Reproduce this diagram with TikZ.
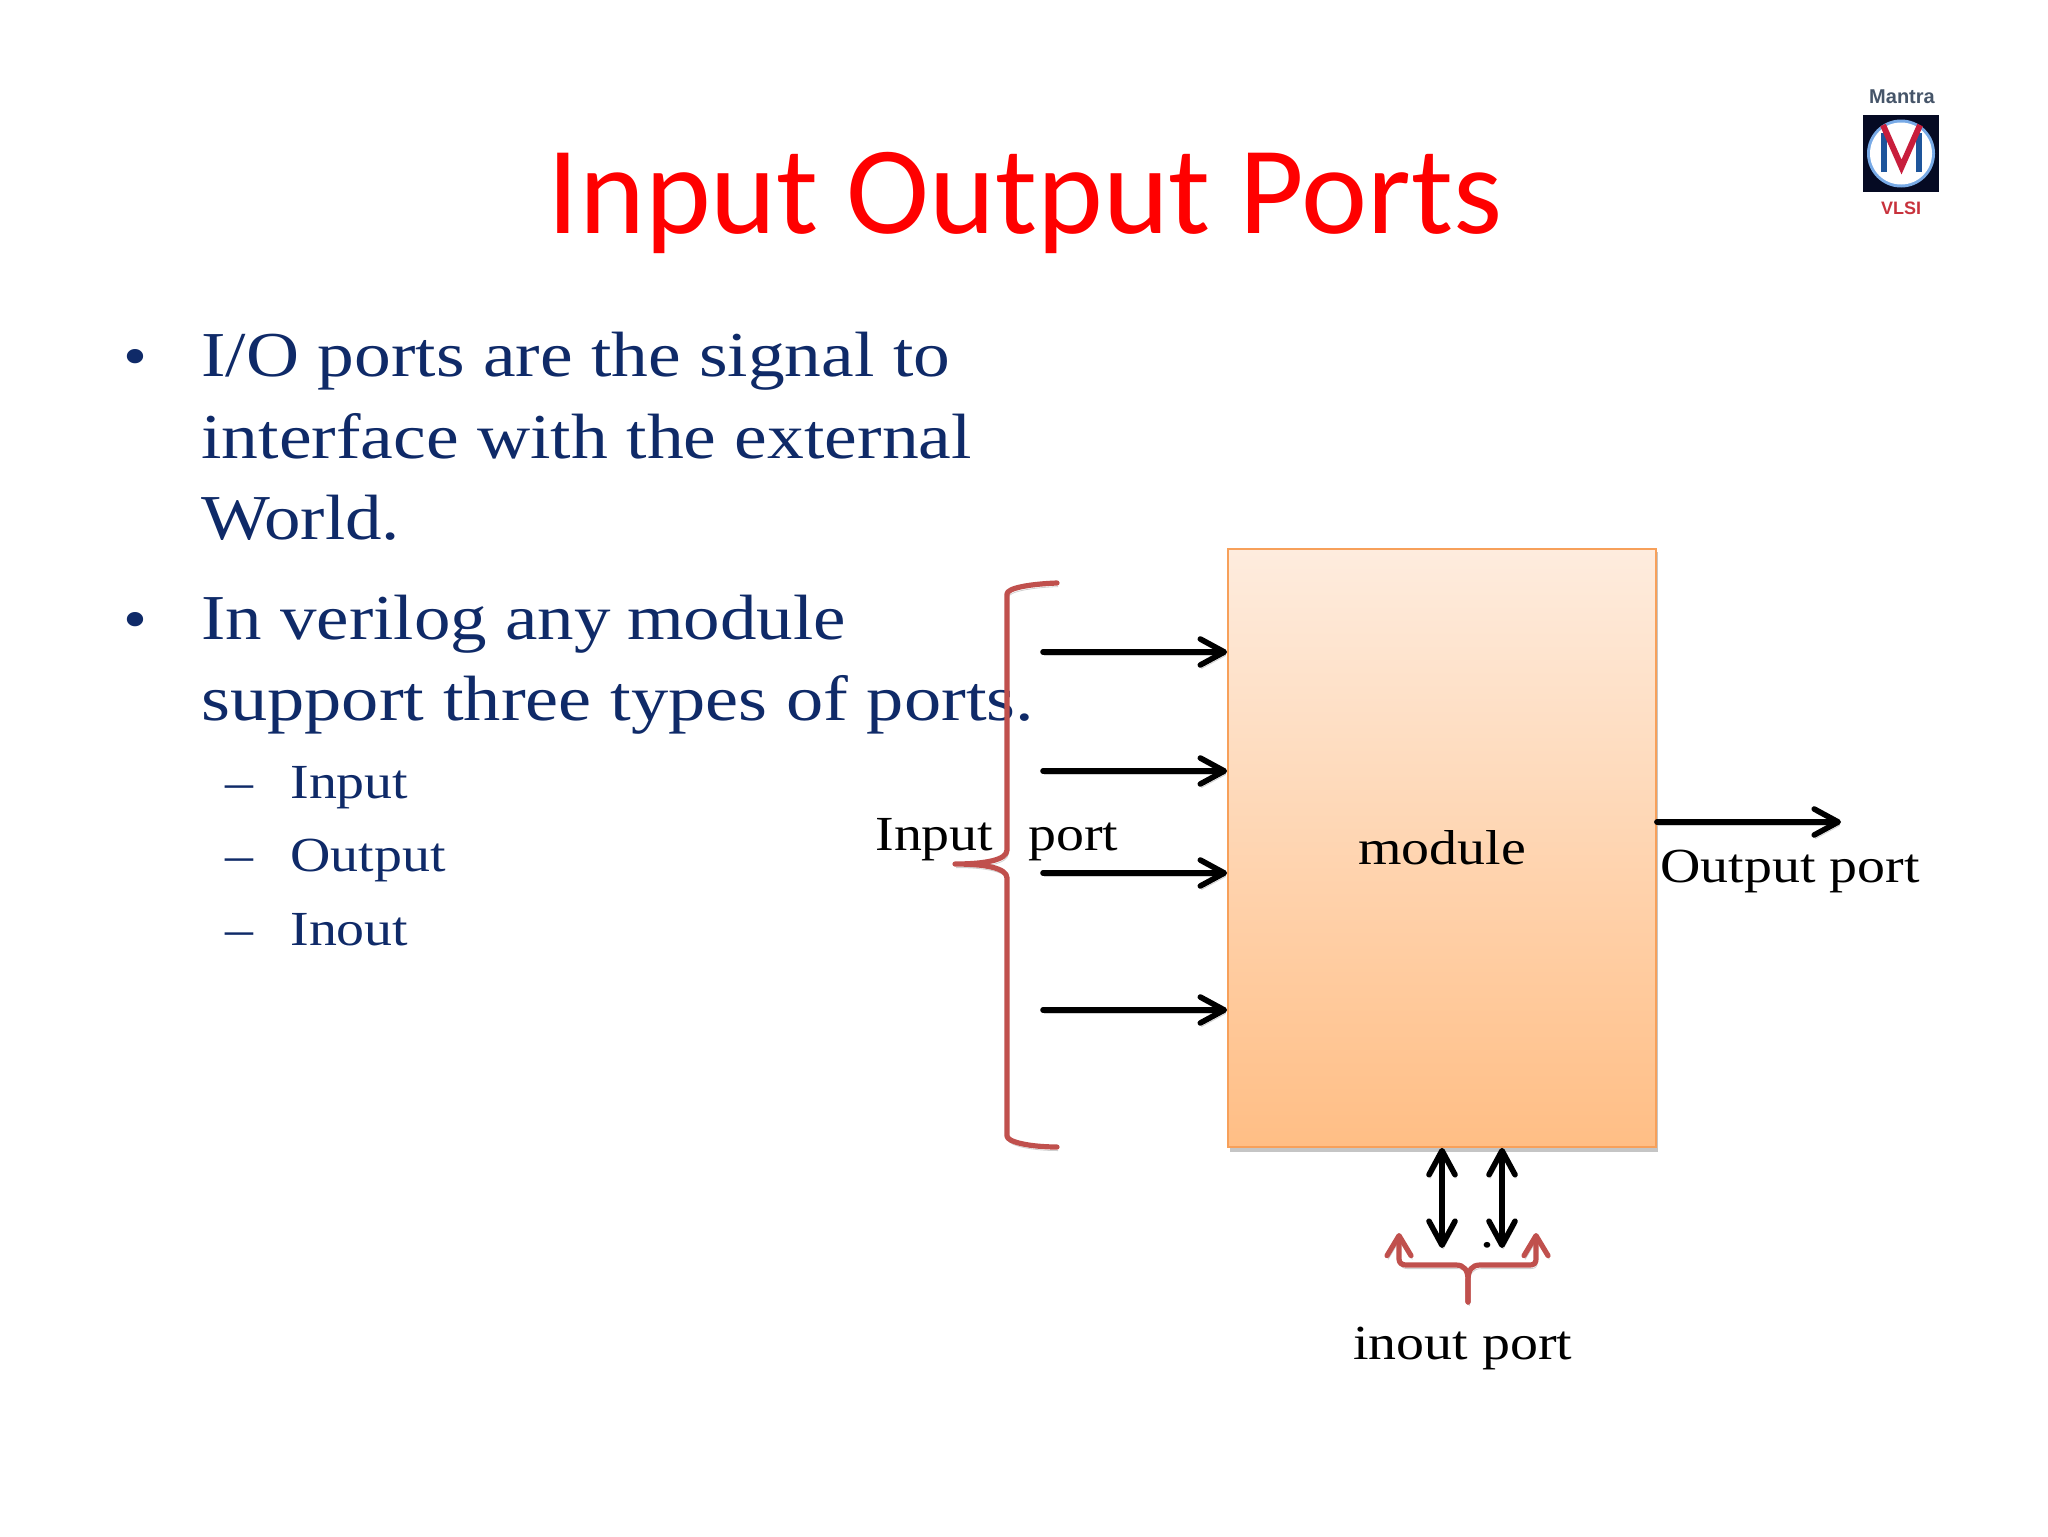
\documentclass[tikz,border=0pt]{standalone}
\usepackage{fontspec}
\setmainfont[FakeStretch=1.14]{Liberation Serif}
\newfontfamily\titlefont{Carlito}
\newfontfamily\logofont{Liberation Sans}
\usetikzlibrary{arrows.meta}
\definecolor{bodyblue}{HTML}{0F2A68}
\definecolor{bracered}{HTML}{C0504D}
\definecolor{titlered}{HTML}{FF0000}
\definecolor{logoring}{RGB}{120,170,230}
\definecolor{logoblue}{RGB}{30,85,155}
\definecolor{logored}{RGB}{200,30,60}
\definecolor{logonavy}{RGB}{5,10,35}
\definecolor{logogray}{RGB}{70,85,105}
\definecolor{logovlsi}{RGB}{200,50,60}
\definecolor{boxedge}{RGB}{247,160,90}
\definecolor{boxtop}{RGB}{254,236,222}
\definecolor{boxbottom}{RGB}{255,190,133}
\tikzset{
 x=0.5pt,y=-0.5pt,
 softshadow/.style={preaction={draw=black!60,opacity=.3,transform canvas={xshift=0.6pt,yshift=-1.8pt}}},
 port/.style={softshadow,draw=black,line width=2.8pt,line cap=round,-{Straight Barb[length=12pt,width=13pt,line width=2.8pt,round]}},
 biport/.style={softshadow,draw=black,line width=2.8pt,line cap=round,{Straight Barb[length=12pt,width=13pt,line width=2.8pt,round]}-{Straight Barb[length=12pt,width=13pt,line width=2.8pt,round]}},
 bracestroke/.style={softshadow,draw=bracered,line width=2.6pt,line cap=round,line join=round},
 redarrow/.style={-{Straight Barb[length=10pt,width=12pt,line width=2.6pt,round]}},
 txt/.style={inner sep=0pt,anchor=base west,text=black,font=\fontsize{24.5}{24.5}\selectfont},
 bodytext/.style={inner sep=0pt,anchor=base west,text=bodyblue,font=\fontsize{32}{32}\selectfont},
 subtext/.style={inner sep=0pt,anchor=base west,text=bodyblue,font=\fontsize{24.5}{24.5}\selectfont},
 bulletmark/.style={inner sep=0pt,anchor=base,text=bodyblue,font=\fontsize{30}{30}\selectfont},
}
\begin{document}
\begin{tikzpicture}
\useasboundingbox (0,0) rectangle (2048,1536);
\fill[white] (0,0) rectangle (2048,1536);
% title
\node[inner sep=0pt,anchor=base,text=titlered,font=\titlefont\fontsize{62.6}{62.6}\selectfont] (title) at (1025,233) {Input Output Ports};
% body
\node[bulletmark] (b1) at (135,376) {•};
\node[bodytext] (l1) at (201,376) {\scalebox{1.007}[1]{I/O ports are the signal to}};
\node[bodytext] (l2) at (201,458) {\scalebox{1.009}[1]{interface with the external}};
\node[bodytext] (l3) at (201,539) {World.};
\node[bulletmark] (b2) at (135,639) {•};
\node[bodytext] (l4) at (201,639) {In verilog any\ \ \hspace{-10pt}module};
\node[bodytext] (l5) at (201,720) {\scalebox{1.02}[1]{support three types of ports.}};
\node[subtext] (d1) at (225,798) {–};
\node[subtext] (s1) at (290,798) {Input};
\node[subtext] (d2) at (225,871) {–};
\node[subtext] (s2) at (290,871) {Output};
\node[subtext] (d3) at (225,945) {–};
\node[subtext] (s3) at (290,945) {Inout};
% module
\fill[black!50,opacity=.45] (1230,552) rectangle (1658,1152);
\node[draw=boxedge,line width=0.9pt,top color=boxtop,bottom color=boxbottom,minimum width=214pt,minimum height=299pt,inner sep=0pt,font=\fontsize{24.5}{24.5}\selectfont] (box) at (1442,848) {\raisebox{-2.2pt}{module}};
% input arrows
\coordinate (a1) at (1043,652);
\coordinate (a2) at (1043,771);
\coordinate (a3) at (1043,873);
\coordinate (a4) at (1043,1010);
\draw[port] (a1) -- (a1 -| box.west);
\draw[port] (a2) -- (a2 -| box.west);
\draw[port] (a3) -- (a3 -| box.west);
\draw[port] (a4) -- (a4 -| box.west);
% output arrow
\coordinate (o1) at (1841,822);
\draw[port] (o1 -| box.east) -- (o1);
% inout arrows
\coordinate (i1) at (1442,1248);
\coordinate (i2) at (1502,1248);
\draw[biport] (i1 |- box.south) -- (i1);
\draw[biport] (i2 |- box.south) -- (i2);
\node[txt] (dot) at (1480,1247) {.};
% left brace
\coordinate (bt) at (1057,583);
\coordinate (bb) at (1057,1147);
\coordinate (bm) at (955,864);
\draw[bracestroke] (bt) .. controls (1030,584) and (1007,588) .. (1007,594) -- (1007,850)
  .. controls (1007,860) and (985,864) .. (bm)
  .. controls (985,864) and (1007,868) .. (1007,878) -- (1007,1136)
  .. controls (1007,1142) and (1030,1147) .. (bb);
% inout brace
\coordinate (rl) at (1399,1233);
\coordinate (rr) at (1536,1233);
\coordinate (rm) at (1468,1302);
\draw[bracestroke,redarrow] (rm) -- (1468,1280) .. controls (1468,1270) and (1464,1265) .. (1456,1265) -- (1406,1265) .. controls (1402,1265) and (1399,1263) .. (1399,1259) -- (rl);
\draw[bracestroke,redarrow] (rm) -- (1468,1280) .. controls (1468,1270) and (1472,1265) .. (1480,1265) -- (1530,1265) .. controls (1534,1265) and (1536,1263) .. (1536,1259) -- (rr);
% labels
\node[txt] (inlab) at (875,850) {Input};
\node[txt] (portlab) at (1028,850) {port};
\node[txt] (outlab) at (1660,882) {Output port};
\node[txt] (iolab) at (1353,1359) {inout port};
% logo
\node[inner sep=0pt,anchor=base,text=logogray,font=\logofont\bfseries\fontsize{10}{10}\selectfont] (mantra) at (1902,104) {Mantra};
\node[fill=logonavy,minimum size=38pt,inner sep=0pt] (logosq) at (1901,153.5) {};
\fill[logoring] (logosq.center) circle (17pt);
\node[circle,fill=white,minimum size=31pt,inner sep=0pt] (logoc) at (logosq.center) {};
\draw[draw=logoblue,line width=2.8pt] (1884,172) -- (1884,133);
\draw[draw=logoblue,line width=2.8pt] (1919,172) -- (1919,133);
\draw[draw=logored,line width=3pt,line join=miter] (1883,125) -- (1901.5,167) -- (1920,125);
\node[inner sep=0pt,anchor=base,text=logovlsi,font=\logofont\bfseries\fontsize{9}{9}\selectfont] (vlsi) at (1901,214) {VLSI};
\end{tikzpicture}
\end{document}
